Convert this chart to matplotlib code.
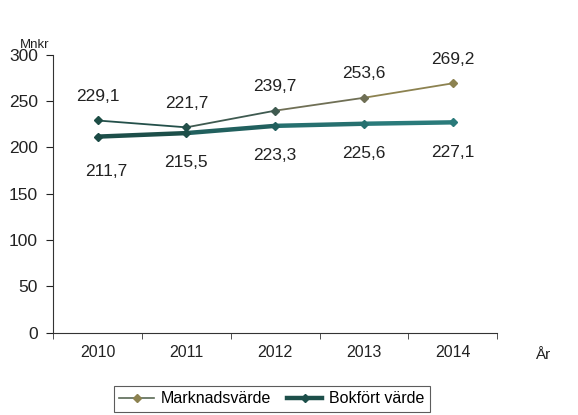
import matplotlib.pyplot as plt
from matplotlib.lines import Line2D
import numpy as np

plt.rcParams['font.family'] = ['Liberation Sans', 'DejaVu Sans']

years = ['2010', '2011', '2012', '2013', '2014']
marknadsvarde = [229.1, 221.7, 239.7, 253.6, 269.2]
bokfort = [211.7, 215.5, 223.3, 225.6, 227.1]

# colours fade along the lines like in the scanned original
mv_colors = ['#1d4d45', '#24504a', '#3f5a50', '#6f6f55', '#8c8250']
bv_colors = ['#1b4a45', '#1d4f4a', '#21605e', '#26706f', '#2a7a7a']

fig = plt.figure(figsize=(5.78, 4.15), dpi=100)
ax = fig.add_axes([0.092, 0.198, 0.768, 0.67])

x = np.arange(len(years))

for i in range(len(x) - 1):
    ax.plot(x[i:i + 2], marknadsvarde[i:i + 2], color=mv_colors[i + 1], lw=1.3,
            solid_capstyle='round')
    ax.plot(x[i:i + 2], bokfort[i:i + 2], color=bv_colors[i + 1], lw=3.2,
            solid_capstyle='round')
for i in range(len(x)):
    ax.plot(x[i], marknadsvarde[i], marker='D', ms=4.5, color=mv_colors[i], mec=mv_colors[i])
    ax.plot(x[i], bokfort[i], marker='D', ms=4.5, color=bv_colors[i], mec=bv_colors[i])

# data labels
for i in range(len(x)):
    ax.text(x[i], marknadsvarde[i] + 18, f'{marknadsvarde[i]:.1f}'.replace('.', ','),
            ha='center', va='bottom', fontsize=12.5, color='#222222')
    off = 30 if i == 0 else 24
    ax.text(x[i] + (0.1 if i == 0 else 0), bokfort[i] - off, f'{bokfort[i]:.1f}'.replace('.', ','),
            ha='center', va='top', fontsize=12.5, color='#222222')

ax.set_xlim(-0.5, 4.5)
ax.set_ylim(0, 300)
ax.set_yticks([0, 50, 100, 150, 200, 250, 300])
ax.set_xticks(x)
ax.set_xticklabels(years)
ax.set_xticks(np.arange(-0.5, 5, 1), minor=True)
ax.tick_params(axis='x', which='major', length=0, pad=9, labelsize=11.5, colors='#222222')
ax.tick_params(axis='x', which='minor', length=4, direction='out', color='#333333')
ax.tick_params(axis='y', length=5, direction='out', labelsize=12.5, colors='#222222', pad=6)

for s in ['top', 'right']:
    ax.spines[s].set_visible(False)
ax.spines['left'].set_color('#333333')
ax.spines['bottom'].set_color('#333333')

fig.text(0.035, 0.885, 'Mnkr', fontsize=9.5, color='#222222')
fig.text(0.925, 0.135, 'År', fontsize=11, color='#222222')

handles = [
    Line2D([0], [0], color='#5a6a55', lw=1.2, marker='D', ms=4.5, mfc='#8c8250', mec='#8c8250'),
    Line2D([0], [0], color='#1d4f4a', lw=3.2, marker='D', ms=4.5, mfc='#1d4f4a', mec='#1d4f4a'),
]
leg = fig.legend(handles, ['Marknadsvärde', 'Bokfört värde'], loc='center',
                 bbox_to_anchor=(0.47, 0.039), ncol=2, fontsize=11.5, frameon=True,
                 fancybox=False, edgecolor='#333333', handlelength=2.2,
                 columnspacing=1.0, handletextpad=0.4, borderpad=0.35)
leg.get_frame().set_linewidth(0.8)

fig.savefig('out.png', dpi=100)
